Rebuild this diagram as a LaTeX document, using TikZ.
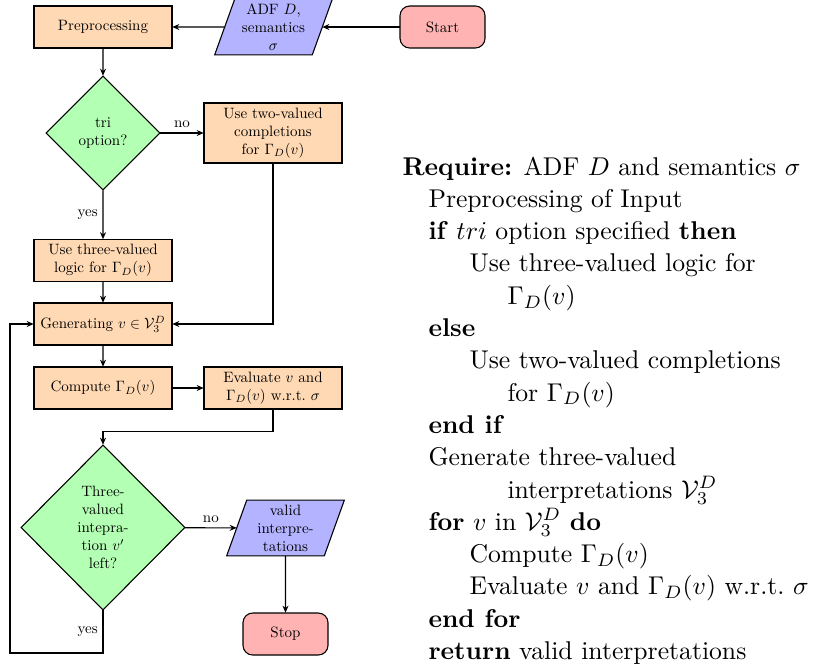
\documentclass[tikz,border=0pt]{standalone}
\usepackage{amsmath,amssymb}
\usetikzlibrary{shapes.geometric,arrows.meta,backgrounds}
\definecolor{procfill}{RGB}{255,217,179}
\definecolor{decfill}{RGB}{179,255,179}
\definecolor{iofill}{RGB}{179,179,255}
\definecolor{termfill}{RGB}{255,179,179}
\def\pxu{0.37pt}
\def\fs{0.555}
\tikzset{
  base/.style={draw, font=\normalsize, align=center, inner sep=0pt, scale=\fs, transform shape},
  proc/.style={base, rectangle, fill=procfill, minimum width=138*\pxu/\fs, minimum height=42*\pxu/\fs},
  term/.style={base, rectangle, rounded corners=3.6pt, fill=termfill, minimum width=85*\pxu/\fs, minimum height=42*\pxu/\fs},
  decision/.style={base, diamond, fill=decfill, aspect=1},
  iobox/.style={font=\normalsize, align=center, inner sep=0pt, scale=\fs, transform shape, minimum width=97*\pxu/\fs, minimum height=55*\pxu/\fs},
  arr/.style={draw, -{Stealth[length=2.6pt,width=2.2pt]}},
  lbl/.style={font=\normalsize, scale=\fs, transform shape},
  alg/.style={anchor=base west, inner sep=0pt, font=\normalsize, scale=0.95, transform shape}
}
\begin{document}
\begin{tikzpicture}[x=0.37pt, y=-0.37pt]
\useasboundingbox (0,0) rectangle (814,664);
% flowchart nodes
\node[proc] (pre) at (103,27) {Preprocessing};
\node[iobox] (adf) at (273.5,27) {ADF $D$,\\semantics\\$\sigma$};
\node[term] (start) at (442.5,27) {Start};
\node[decision, minimum width=114*\pxu/\fs, minimum height=114*\pxu/\fs] (tri) at (103,133) {tri\\option?};
\node[proc, minimum height=60*\pxu/\fs] (two) at (273,133) {Use two-valued\\completions\\for $\Gamma_D(v)$};
\node[proc] (three) at (103,260.5) {Use three-valued\\logic for $\Gamma_D(v)$};
\node[proc] (gen) at (103,324) {Generating $v\in\mathcal{V}_3^D$};
\node[proc] (comp) at (103,388) {Compute $\Gamma_D(v)$};
\node[proc] (eval) at (273,388) {Evaluate $v$ and\\$\Gamma_D(v)$ w.r.t.\ $\sigma$};
\node[decision, minimum width=164*\pxu/\fs, minimum height=165*\pxu/\fs] (dtwo) at (103,527.5) {Three-\\valued\\intepra-\\tion $v'$\\left?};
\node[iobox] (valid) at (285.5,528) {valid\\interpre-\\tations};
\node[term] (stop) at (285.5,634) {Stop};
\coordinate (loopc) at (10,653);
% parallelograms
\begin{scope}[on background layer]
\draw[fill=iofill] ([xshift=-3.7pt]adf.south west) -- ([xshift=-3.7pt]adf.south east) -- ([xshift=3.7pt]adf.north east) -- ([xshift=3.7pt]adf.north west) -- cycle;
\draw[fill=iofill] ([xshift=-3.7pt]valid.south west) -- ([xshift=-3.7pt]valid.south east) -- ([xshift=3.7pt]valid.north east) -- ([xshift=3.7pt]valid.north west) -- cycle;
\end{scope}
% connectors
\draw[arr] (start) -- (adf);
\draw[arr] (adf) -- (pre);
\draw[arr] (pre) -- (tri);
\draw[arr] (tri) -- node[lbl, above] {no} (two);
\draw[arr] (tri) -- node[lbl, left] {yes} (three);
\draw[arr] (three) -- (gen);
\draw[arr] (two.south) |- (gen.east);
\draw[arr] (gen) -- (comp);
\draw[arr] (comp) -- (eval);
\draw[arr] (eval.south) -- ++(0,22) -| (dtwo.north);
\draw[arr] (dtwo) -- node[lbl, above] {no} (valid);
\draw[arr] (valid) -- (stop);
\draw[arr] (dtwo.south) -- node[lbl, left] {yes} (dtwo.south |- loopc) -- (loopc) |- (gen.west);
% algorithm
\node[alg] (l0) at (402,175) {\textbf{Require:} ADF $D$ and semantics $\sigma$};
\node[alg] (l1) at (428,207.3) {Preprocessing of Input};
\node[alg] (l2) at (428,239.6) {\textbf{if} $tri$ option specified \textbf{then}};
\node[alg] (l3) at (469,271.9) {Use three-valued logic for};
\node[alg] (l4) at (507,304.2) {$\Gamma_D(v)$};
\node[alg] (l5) at (428,336.5) {\textbf{else}};
\node[alg] (l6) at (469,368.8) {Use two-valued completions};
\node[alg] (l7) at (507,401.1) {for $\Gamma_D(v)$};
\node[alg] (l8) at (428,433.4) {\textbf{end if}};
\node[alg] (l9) at (428,465.7) {Generate three-valued};
\node[alg] (l10) at (507,498) {interpretations $\mathcal{V}_3^D$};
\node[alg] (l11) at (428,530.3) {\textbf{for} $v$ in $\mathcal{V}_3^D$ \textbf{do}};
\node[alg] (l12) at (469,562.6) {Compute $\Gamma_D(v)$};
\node[alg] (l13) at (469,594.9) {Evaluate $v$ and $\Gamma_D(v)$ w.r.t.\ $\sigma$};
\node[alg] (l14) at (428,627.2) {\textbf{end for}};
\node[alg] (l15) at (428,659.5) {\textbf{return} valid interpretations};
\end{tikzpicture}
\end{document}
